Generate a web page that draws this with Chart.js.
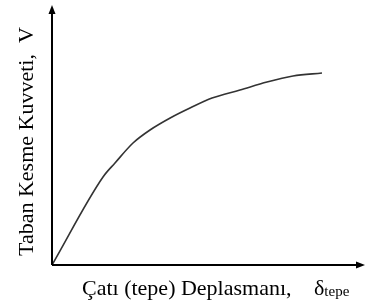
<!DOCTYPE html>
<html>
<head>
<meta charset="utf-8">
<script src="https://cdn.jsdelivr.net/npm/chart.js@4/dist/chart.umd.min.js"></script>
<style>
  html, body { margin: 0; padding: 0; background: #fff; }
  #wrap { width: 367px; height: 306px; }
</style>
</head>
<body>
<div id="wrap"><canvas id="chart" width="367" height="306"></canvas></div>
<script>
// displacement (x) and base shear (y)
const disp = [0, 51, 63, 81, 98, 120, 138, 160, 188, 215, 241, 270];
const shear = [0, 88, 102, 122, 135, 148, 157, 167, 175, 183, 189, 192];

const yTitle = 'Taban Kesme Kuvveti,  V';
const xTitle = 'Çatı (tepe) Deplasmanı,';
const xSymbol = 'δ';
const xSub = 'tepe';

let points = [];
for (let i = 0; i < disp.length; i++) {
    points.push({x: disp[i], y: shear[i]});
}

// axes with arrows + the two labels
const axesPlugin = {
    id: 'axesPlugin',
    afterDraw(chart) {
        const ctx = chart.ctx;
        const a = chart.chartArea;
        const x0 = a.left, y0 = a.bottom;
        ctx.save();
        ctx.strokeStyle = '#000';
        ctx.fillStyle = '#000';
        ctx.lineWidth = 2;
        ctx.beginPath();
        ctx.moveTo(x0, y0);
        ctx.lineTo(x0, a.top + 4);
        ctx.moveTo(x0, y0);
        ctx.lineTo(a.right - 2, y0);
        ctx.stroke();
        // arrow heads
        ctx.beginPath();
        ctx.moveTo(x0, a.top);
        ctx.lineTo(x0 - 3.5, a.top + 9);
        ctx.lineTo(x0 + 3.5, a.top + 9);
        ctx.closePath();
        ctx.fill();
        ctx.beginPath();
        ctx.moveTo(a.right + 2, y0);
        ctx.lineTo(a.right - 7, y0 - 3.5);
        ctx.lineTo(a.right - 7, y0 + 3.5);
        ctx.closePath();
        ctx.fill();

        // x label
        ctx.font = '22px "Liberation Serif"';
        ctx.textBaseline = 'alphabetic';
        ctx.textAlign = 'left';
        ctx.fillText(xTitle, 82, 295);
        ctx.fillText(xSymbol, 314, 295);
        const w = ctx.measureText(xSymbol).width;
        ctx.font = '15px "Liberation Serif"';
        ctx.fillText(xSub, 314 + w, 296);

        // y label
        ctx.translate(33, 256);
        ctx.rotate(-Math.PI / 2);
        ctx.font = '22px "Liberation Serif"';
        ctx.fillText(yTitle, 0, 0);
        ctx.restore();
    }
};

const config = {
    type: 'line',
    data: {
        datasets: [{
            data: points,
            borderColor: '#333',
            borderWidth: 1.6,
            pointRadius: 0,
            cubicInterpolationMode: 'monotone',
            fill: false
        }]
    },
    options: {
        responsive: false,
        animation: false,
        layout: {padding: {left: 52, top: 5, right: 4, bottom: 41}},
        plugins: {legend: {display: false}, tooltip: {enabled: false}},
        scales: {
            x: {type: 'linear', min: 0, max: 311, display: false},
            y: {type: 'linear', min: 0, max: 260, display: false}
        }
    },
    plugins: [axesPlugin]
};

new Chart(document.getElementById('chart'), config);
</script>
</body>
</html>
